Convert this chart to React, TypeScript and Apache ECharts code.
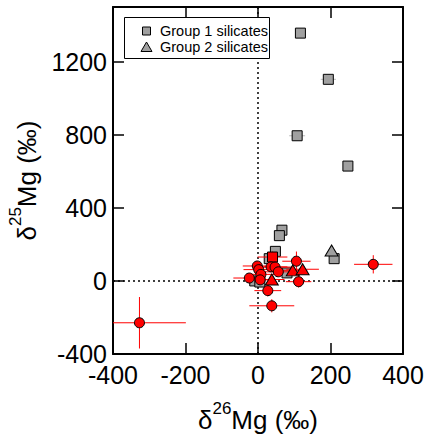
import React, { useEffect, useRef } from "react";
import * as echarts from "echarts";

// [x, y, xErr, yErr]  (δ26Mg, δ25Mg in ‰)
const group1Silicates: number[][] = [
  [117, 1357, 0, 0],
  [194, 1104, 21, 0],
  [108, 795, 22, 0],
  [248, 629, 11, 0],
  [66, 278, 0, 0],
  [59, 248, 0, 0],
  [210, 122, 0, 0],
  [48, 162, 0, 0],
  [31, 122, 0, 0],
  [80, 44, 0, 0],
  [-9, 0, 0, 0],
  [5, -6, 0, 0],
];
const group2Silicates: number[][] = [[203, 167, 0, 0]];

const redCircles: number[][] = [
  [106, 108, 39, 53],
  [112, -4, 35, 32],
  [38, -136, 62, 36],
  [27, -53, 37, 32],
  [-24, 16, 44, 25],
  [-2, 82, 40, 25],
  [2, 62, 42, 25],
  [8, 36, 40, 25],
  [6, 6, 38, 22],
  [36, 77, 45, 25],
  [47, 76, 50, 25],
  [56, 50, 45, 25],
  [-327, -229, 128, 141],
  [318, 91, 53, 50],
];
const redTriangles: number[][] = [
  [38, 8, 35, 22],
  [96, 58, 40, 25],
  [123, 64, 45, 20],
];
const redSquares: number[][] = [[40, 131, 41, 30]];

const xTicks = { min: -400, max: 400, interval: 200 };
const yTicks = { min: -400, max: 1500, interval: 400 };

const FONT = "'Liberation Sans', Arial, sans-serif";

function errorBars(data: number[][], color: string, z: number) {
  return {
    type: "custom",
    data,
    z,
    silent: true,
    renderItem: (_p: any, api: any) => {
      const x = api.value(0);
      const y = api.value(1);
      const xe = api.value(2);
      const ye = api.value(3);
      const children: any[] = [];
      if (xe > 0) {
        const a = api.coord([Math.max(x - xe, xTicks.min), y]);
        const b = api.coord([Math.min(x + xe, xTicks.max), y]);
        children.push({
          type: "line",
          shape: { x1: a[0], y1: a[1], x2: b[0], y2: b[1] },
          style: { stroke: color, lineWidth: 1 },
        });
      }
      if (ye > 0) {
        const a = api.coord([x, Math.max(y - ye, yTicks.min)]);
        const b = api.coord([x, Math.min(y + ye, yTicks.max)]);
        children.push({
          type: "line",
          shape: { x1: a[0], y1: a[1], x2: b[0], y2: b[1] },
          style: { stroke: color, lineWidth: 1 },
        });
      }
      return { type: "group", children };
    },
  };
}

function scatter(data: number[][], symbol: string, size: any, color: string, z: number, extra: any = {}) {
  return {
    type: "scatter",
    data: data.map((d) => [d[0], d[1]]),
    symbol,
    symbolSize: size,
    z,
    itemStyle: { color, borderColor: "#000", borderWidth: 1, opacity: 1 },
    ...extra,
  };
}

const axisCommon = {
  axisLine: { show: true, onZero: false, lineStyle: { color: "#000", width: 2 } },
  axisTick: { show: true, inside: true, length: 11, lineStyle: { color: "#000", width: 1.5 } },
  splitLine: { show: false },
};

const rich = {
  a: { fontSize: 26, fontFamily: FONT, color: "#000", lineHeight: 40 },
  s: { fontSize: 17, fontFamily: FONT, color: "#000", lineHeight: 17, verticalAlign: "top" },
};

const fmt = (v: number) => String(v);

export default function App() {
  const ref = useRef<HTMLDivElement>(null);
  useEffect(() => {
    if (!ref.current) return;
    const chart = echarts.init(ref.current, undefined, { renderer: "svg" });
    chart.setOption({
      animation: false,
      backgroundColor: "#fff",
      grid: { left: 113, top: 7, right: 23, bottom: 84, outerBoundsMode: "none", containLabel: false },
      xAxis: [
        {
          type: "value",
          position: "bottom",
          ...xTicks,
          ...axisCommon,
          axisLabel: { fontSize: 25, lineHeight: 18, color: "#000", fontFamily: FONT, margin: 12, formatter: fmt },
          name: "{a|δ}{s|26}{a|Mg (‰)}",
          nameLocation: "middle",
          nameGap: 46,
          nameTextStyle: { rich },
        },
        {
          type: "value",
          position: "top",
          ...xTicks,
          ...axisCommon,
          axisLabel: { show: false },
        },
      ],
      yAxis: [
        {
          type: "value",
          position: "left",
          ...yTicks,
          ...axisCommon,
          axisLabel: {
            fontSize: 25,
            lineHeight: 18,
            color: "#000",
            fontFamily: FONT,
            margin: 6,
            showMaxLabel: false,
            formatter: fmt,
          },
          name: "{a|δ}{s|25}{a|Mg (‰)}",
          nameLocation: "middle",
          nameGap: 51,
          nameTextStyle: { rich },
        },
        {
          type: "value",
          position: "right",
          ...yTicks,
          ...axisCommon,
          axisLabel: { show: false },
        },
      ],
      series: [
        errorBars(group1Silicates, "#bbbbbb", 2),
        scatter(group1Silicates, "rect", 10, "#a0a0a0", 3, {
          markLine: {
            silent: true,
            z: 1,
            symbol: ["none", "none"],
            label: { show: false },
            lineStyle: { color: "#000", width: 1.5, type: [2, 3] },
            data: [{ xAxis: 0 }, { yAxis: 0 }],
          },
        }),
        scatter(group2Silicates, "triangle", [13, 11], "#a0a0a0", 3),
        errorBars([...redCircles, ...redTriangles, ...redSquares], "#ff0000", 4),
        scatter(redSquares, "rect", 10, "#ff0000", 5),
        scatter(redCircles, "circle", 10, "#ff0000", 5),
        scatter(redTriangles, "triangle", [13, 11], "#ff0000", 5),
      ],
      graphic: [
        {
          type: "rect",
          shape: { x: 124.5, y: 17.5, width: 145, height: 41 },
          style: { fill: "#fff", stroke: "#000", lineWidth: 1 },
          z: 10,
        },
        {
          type: "rect",
          shape: { x: 142.5, y: 27, width: 8, height: 8 },
          style: { fill: "#a0a0a0", stroke: "#000", lineWidth: 1 },
          z: 11,
        },
        {
          type: "polygon",
          shape: { points: [[146.5, 42], [152, 51.5], [141, 51.5]] },
          style: { fill: "#a0a0a0", stroke: "#000", lineWidth: 1 },
          z: 11,
        },
        {
          type: "text",
          x: 160,
          y: 31,
          style: { text: "Group 1 silicates", fontSize: 14.5, fontFamily: FONT, fill: "#000", verticalAlign: "middle" },
          z: 11,
        },
        {
          type: "text",
          x: 160,
          y: 47,
          style: { text: "Group 2 silicates", fontSize: 14.5, fontFamily: FONT, fill: "#000", verticalAlign: "middle" },
          z: 11,
        },
      ],
    });
    return () => chart.dispose();
  }, []);
  return <div ref={ref} style={{ width: 426, height: 438, position: "absolute", left: 0, top: 0 }} />;
}
